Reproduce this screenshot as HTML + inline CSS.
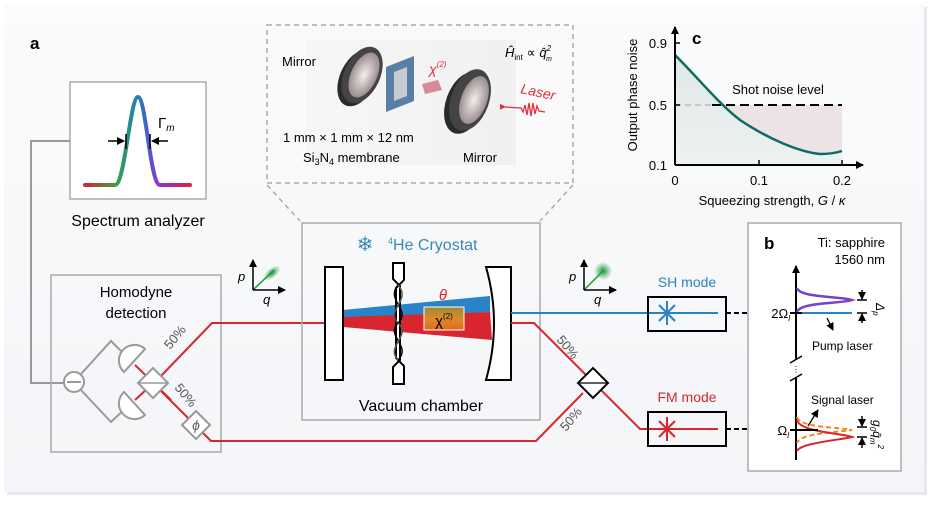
<!DOCTYPE html>
<html><head><meta charset="utf-8"><style>
html,body{margin:0;padding:0;background:#fff;}
svg{display:block;font-family:"Liberation Sans",Arial,sans-serif;}
</style></head><body>
<svg width="937" height="505" viewBox="0 0 937 505" xmlns="http://www.w3.org/2000/svg">
<defs>
<linearGradient id="bg" x1="0" y1="0" x2="0" y2="1"><stop offset="0" stop-color="#fafbfc"/><stop offset="1" stop-color="#f3f5f8"/></linearGradient>
<linearGradient id="spec" x1="0" y1="0" x2="1" y2="0"><stop offset="0" stop-color="#d8262e"/><stop offset="0.3" stop-color="#3aa040"/><stop offset="0.5" stop-color="#1f7fc0"/><stop offset="0.72" stop-color="#9030d0"/><stop offset="1" stop-color="#d8263e"/></linearGradient>
<linearGradient id="chi" x1="0" y1="0" x2="0" y2="1"><stop offset="0" stop-color="#9a8a3a"/><stop offset="0.5" stop-color="#e08a2a"/><stop offset="1" stop-color="#e06a20"/></linearGradient>
<linearGradient id="fillc" x1="0" y1="0" x2="0" y2="1"><stop offset="0" stop-color="#dfe8e6"/><stop offset="1" stop-color="#eef2f1"/></linearGradient>
<linearGradient id="photo" x1="0" y1="0" x2="1" y2="0"><stop offset="0" stop-color="#f7f7f7"/><stop offset="1" stop-color="#f0f0f0"/></linearGradient>
<radialGradient id="glow"><stop offset="0" stop-color="#1a9a3a"/><stop offset="1" stop-color="#1a9a3a" stop-opacity="0"/></radialGradient>
<radialGradient id="lens" cx="0.5" cy="0.5" r="0.6"><stop offset="0" stop-color="#f4eeee"/><stop offset="1" stop-color="#8a7a7c"/></radialGradient>
<marker id="ar" markerWidth="8" markerHeight="8" refX="7" refY="4" orient="auto" markerUnits="userSpaceOnUse"><path d="M0,0 L8,4 L0,8 z" fill="#000"/></marker>
<marker id="arr" markerWidth="6" markerHeight="6" refX="1" refY="3" orient="auto" markerUnits="userSpaceOnUse"><path d="M6,0 L0,3 L6,6 z" fill="#e03040"/></marker>
</defs>
<rect x="0" y="0" width="937" height="505" fill="#fff"/>
<rect x="7" y="7" width="920" height="488" fill="#e6e8eb"/>
<rect x="4" y="4" width="920" height="488" fill="url(#bg)"/>
<text x="30" y="49" font-size="17" font-weight="bold">a</text>

<!-- Spectrum analyzer -->
<rect x="70" y="82" width="136" height="117" fill="#fff" stroke="#aaa" stroke-width="1.5"/>
<path d="M85,185 L115,185 C125,185 130,97 138,97 C146,97 150,185 160,185 L190,185" fill="none" stroke="url(#spec)" stroke-width="4" stroke-linecap="round"/>
<line x1="108" y1="141" x2="124" y2="141" stroke="#000" stroke-width="1.5" marker-end="url(#ar)"/>
<line x1="126" y1="134" x2="126" y2="149" stroke="#000" stroke-width="1.5"/>
<line x1="168" y1="141" x2="152" y2="141" stroke="#000" stroke-width="1.5" marker-end="url(#ar)"/>
<line x1="150" y1="134" x2="150" y2="149" stroke="#000" stroke-width="1.5"/>
<text x="158" y="128" font-size="15">Γ<tspan font-size="10" font-style="italic" dy="3">m</tspan></text>
<text x="138" y="226" font-size="16" text-anchor="middle">Spectrum analyzer</text>
<polyline points="70,141 31,141 31,383 64,383" fill="none" stroke="#999" stroke-width="2"/>

<!-- Homodyne -->
<rect x="51" y="275" width="170" height="177" fill="none" stroke="#aaa" stroke-width="1.5"/>
<text x="136" y="297" font-size="15" text-anchor="middle">Homodyne</text>
<text x="136" y="318" font-size="15" text-anchor="middle">detection</text>
<circle cx="74" cy="382" r="10" fill="#fff" stroke="#999" stroke-width="2"/>
<line x1="67" y1="382" x2="81" y2="382" stroke="#999" stroke-width="2"/>
<polyline points="81,374 111,341 126,356" fill="none" stroke="#999" stroke-width="2"/>
<polyline points="81,390 111,422 126,408" fill="none" stroke="#999" stroke-width="2"/>
<polyline points="135,365 171,400" fill="none" stroke="#d8262e" stroke-width="2"/>
<polyline points="135,400 160,377 212,323 326,323" fill="none" stroke="#d8262e" stroke-width="2"/>
<polyline points="160,390 211,441 536,441 583,393" fill="none" stroke="#d8262e" stroke-width="2"/>
<path d="M145,349 L124,372 A15.5,15.5 0 0 1 145,349 Z" fill="#fff" stroke="#999" stroke-width="2"/>
<path d="M124,392 L145,415 A15.5,15.5 0 0 1 124,392 Z" fill="#fff" stroke="#999" stroke-width="2"/>
<polygon points="138,383 153,368 168,383 153,398" fill="#fff" stroke="#999" stroke-width="2"/>
<line x1="138" y1="383" x2="168" y2="383" stroke="#999" stroke-width="1.5"/>
<polygon points="182,425 196,411 210,425 196,439" fill="#fff" stroke="#999" stroke-width="2"/>
<text x="196" y="430" font-size="14" font-style="italic" text-anchor="middle" fill="#666">ϕ</text>
<text x="170" y="350" font-size="13" fill="#555" transform="rotate(-50 170 350)">50%</text>
<text x="174" y="388" font-size="13" fill="#555" transform="rotate(50 174 388)">50%</text>

<!-- dashed inset -->
<rect x="267" y="25" width="306" height="158" fill="#fafafa" stroke="#aaa" stroke-width="1.5" stroke-dasharray="5,4"/>
<line x1="267" y1="185" x2="300" y2="221" stroke="#aaa" stroke-width="1.5" stroke-dasharray="5,4"/>
<line x1="573" y1="185" x2="540" y2="221" stroke="#aaa" stroke-width="1.5" stroke-dasharray="5,4"/>
<rect x="306" y="40" width="210" height="125" fill="url(#photo)"/>
<!-- mirror 1 -->
<ellipse cx="358" cy="78" rx="18" ry="30" fill="#2a2a2a" transform="rotate(25 358 78)"/>
<ellipse cx="362" cy="75" rx="18" ry="30" fill="#444" transform="rotate(25 362 75)"/>
<ellipse cx="364" cy="75" rx="13" ry="24" fill="url(#lens)" transform="rotate(25 364 75)"/>
<!-- membrane -->
<polygon points="386,67 414,56 414,101 386,112" fill="#5a7fa5"/>
<polygon points="394,72 407,67 407,96 394,101" fill="#c8ccd0"/>
<polygon points="422,84 438,80 442,90 425,94" fill="#d88a98"/>
<!-- mirror 2 -->
<ellipse cx="465" cy="103" rx="19" ry="32" fill="#2a2a2a" transform="rotate(20 465 103)"/>
<ellipse cx="470" cy="100" rx="19" ry="32" fill="#444" transform="rotate(20 470 100)"/>
<ellipse cx="474" cy="100" rx="13" ry="25" fill="url(#lens)" transform="rotate(20 474 100)"/>
<path d="M545,112 l-6,-1 l-2,-5 l-2,8 l-2,-11 l-2,13 l-2,-13 l-2,12 l-2,-10 l-2,7 l-2,-4 l-16,-1" fill="none" stroke="#e03040" stroke-width="1.3" marker-end="url(#arr)"/>
<text x="282" y="66" font-size="13">Mirror</text>
<text x="429" y="74" font-size="14" fill="#e03040" font-style="italic">χ<tspan font-size="8" dy="-7">(2)</tspan></text>
<text x="505" y="57" font-size="13" font-style="italic">Ĥ<tspan font-size="8" font-style="normal" dy="3">int</tspan><tspan dy="-3" font-style="normal"> ∝ </tspan>q̂<tspan font-size="8" dy="-6">2</tspan><tspan font-size="7" dx="-5" dy="10">m</tspan></text>
<text x="520" y="93" font-size="14" fill="#e03040" font-style="italic" transform="rotate(12 520 93)">Laser</text>
<text x="283" y="142" font-size="13">1 mm × 1 mm × 12 nm</text>
<text x="303" y="162" font-size="13">Si<tspan font-size="9" dy="3">3</tspan><tspan dy="-3">N</tspan><tspan font-size="9" dy="3">4</tspan><tspan dy="-3"> membrane</tspan></text>
<text x="463" y="162" font-size="13">Mirror</text>

<!-- cryostat -->
<rect x="302" y="223" width="238" height="197" fill="none" stroke="#aaa" stroke-width="1.5"/>
<text x="365" y="251" font-size="20" fill="#3a8ab8" text-anchor="middle">❄</text>
<text x="388" y="250" font-size="16" fill="#3a8ab8"><tspan font-size="9" dy="-6">4</tspan><tspan dy="6">He Cryostat</tspan></text>
<polygon points="343,310 490,296 490,312 343,318" fill="#2a82c8"/>
<polygon points="343,317 490,312 492,340 343,327" fill="#d8262e"/>
<rect x="424" y="307" width="40" height="23" fill="url(#chi)" stroke="#fff" stroke-width="1"/>
<text x="444" y="326" font-size="15" text-anchor="middle">χ<tspan font-size="8" dy="-7">(2)</tspan></text>
<text x="443" y="300" font-size="15" fill="#d8262e" font-style="italic" text-anchor="middle">θ</text>
<rect x="325" y="267" width="18" height="113" fill="#fff" stroke="#000" stroke-width="2"/>
<path d="M393,263 L404,263 L404,280 L396,288 L396,358 L404,366 L404,384 L393,384 L393,367 L400,360 L400,286 L393,279 Z" fill="#fff" stroke="#000" stroke-width="2"/>
<path d="M398,285 C385,300 412,310 398,323 C385,336 412,346 398,360" fill="none" stroke="#000" stroke-width="1.5"/>
<path d="M398,285 C412,300 385,310 398,323 C412,336 385,346 398,360" fill="none" stroke="#555" stroke-width="1.5"/>
<path d="M486,267 L511,267 L511,380 L486,380 Q502,323 486,267 Z" fill="#fff" stroke="#000" stroke-width="2"/>
<text x="421" y="411" font-size="16" text-anchor="middle">Vacuum chamber</text>

<!-- phase space icons -->
<g>
<ellipse cx="272" cy="273" rx="10" ry="5" fill="url(#glow)" transform="rotate(-40 272 273)"/>
<line x1="253" y1="290" x2="274" y2="270" stroke="#1a9a3a" stroke-width="1.5"/>
<line x1="253" y1="290" x2="253" y2="260" stroke="#000" stroke-width="1.5" marker-end="url(#ar)"/>
<line x1="253" y1="290" x2="285" y2="290" stroke="#000" stroke-width="1.5" marker-end="url(#ar)"/>
<text x="238" y="281" font-size="13" font-style="italic">p</text>
<text x="263" y="304" font-size="13" font-style="italic">q</text>
</g>
<g>
<circle cx="603" cy="271" r="9" fill="url(#glow)"/>
<line x1="584" y1="290" x2="603" y2="271" stroke="#1a9a3a" stroke-width="1.5"/>
<line x1="584" y1="290" x2="584" y2="260" stroke="#000" stroke-width="1.5" marker-end="url(#ar)"/>
<line x1="584" y1="290" x2="616" y2="290" stroke="#000" stroke-width="1.5" marker-end="url(#ar)"/>
<text x="569" y="281" font-size="13" font-style="italic">p</text>
<text x="594" y="304" font-size="13" font-style="italic">q</text>
</g>

<!-- right beams -->
<line x1="511" y1="313" x2="718" y2="313" stroke="#2a82c8" stroke-width="2"/>
<polyline points="511,323 534,323 640,429 718,429" fill="none" stroke="#d8262e" stroke-width="2"/>
<polygon points="578,383 593,368 608,383 593,398" fill="#fff" stroke="#000" stroke-width="2"/>
<line x1="578" y1="383" x2="608" y2="383" stroke="#000" stroke-width="1.2"/>
<text x="556" y="340" font-size="13" fill="#555" transform="rotate(50 556 340)">50%</text>
<text x="566" y="432" font-size="13" fill="#555" transform="rotate(-50 566 432)">50%</text>
<text x="687" y="287" font-size="14" fill="#2a82c8" text-anchor="middle">SH mode</text>
<text x="687" y="402" font-size="14" fill="#d8262e" text-anchor="middle">FM mode</text>
<rect x="648" y="297" width="78" height="34" fill="none" stroke="#000" stroke-width="2"/>
<rect x="648" y="412" width="78" height="34" fill="none" stroke="#000" stroke-width="2"/>
<g stroke="#2a82c8" stroke-width="2"><line x1="667" y1="301" x2="667" y2="325"/><line x1="655" y1="313" x2="679" y2="313"/><line x1="659" y1="305" x2="675" y2="321"/><line x1="659" y1="321" x2="675" y2="305"/></g>
<g stroke="#d8262e" stroke-width="2"><line x1="667" y1="417" x2="667" y2="441"/><line x1="655" y1="429" x2="679" y2="429"/><line x1="659" y1="421" x2="675" y2="437"/><line x1="659" y1="437" x2="675" y2="421"/></g>
<line x1="726" y1="313" x2="748" y2="313" stroke="#000" stroke-width="2" stroke-dasharray="5,3"/>
<line x1="726" y1="429" x2="748" y2="429" stroke="#000" stroke-width="2" stroke-dasharray="5,3"/>

<!-- panel b -->
<rect x="748" y="223" width="153" height="248" fill="#fff" stroke="#aaa" stroke-width="1.5"/>
<text x="764" y="249" font-size="17" font-weight="bold">b</text>
<text x="885" y="247" font-size="13" text-anchor="end">Ti: sapphire</text>
<text x="885" y="264" font-size="13" text-anchor="end">1560 nm</text>
<line x1="796" y1="360" x2="796" y2="266" stroke="#000" stroke-width="2" marker-end="url(#ar)"/>
<line x1="796" y1="378" x2="796" y2="460" stroke="#000" stroke-width="2"/>
<line x1="790" y1="363" x2="802" y2="356" stroke="#000" stroke-width="1.5"/>
<line x1="790" y1="381" x2="802" y2="374" stroke="#000" stroke-width="1.5"/>
<text x="796" y="372" font-size="8" text-anchor="middle">⋮</text>
<path d="M797,288 C800,298 840,296 852,300 C840,304 800,302 797,312" fill="none" stroke="#7a40c8" stroke-width="2.5"/>
<line x1="796" y1="313" x2="852" y2="313" stroke="#2a82c8" stroke-width="2"/>
<line x1="790" y1="313" x2="802" y2="313" stroke="#000" stroke-width="2"/>
<line x1="827" y1="318" x2="833" y2="330" stroke="#000" stroke-width="1.3" marker-end="url(#ar)"/>
<text x="812" y="350" font-size="12">Pump laser</text>
<text x="790" y="318" font-size="13" text-anchor="end">2Ω<tspan font-size="8" font-style="italic" dy="3">l</tspan></text>
<line x1="862" y1="290" x2="862" y2="299" stroke="#000" stroke-width="1.5" marker-end="url(#ar)"/>
<line x1="857" y1="300" x2="867" y2="300" stroke="#000" stroke-width="1.5"/>
<line x1="857" y1="313" x2="867" y2="313" stroke="#000" stroke-width="1.5"/>
<line x1="862" y1="323" x2="862" y2="314" stroke="#000" stroke-width="1.5" marker-end="url(#ar)"/>
<text x="876" y="303" font-size="12" font-style="italic" transform="rotate(90 876 303)">Δ<tspan font-size="8" dy="3">p</tspan></text>
<text x="811" y="404" font-size="12">Signal laser</text>
<line x1="808" y1="426" x2="818" y2="410" stroke="#000" stroke-width="1.3" marker-end="url(#ar)"/>
<path d="M797,417 C800,428 840,427 852,430 C840,432 800,433 797,443" fill="none" stroke="#f08a20" stroke-width="2" stroke-dasharray="5,3"/>
<path d="M797,420 C800,432 840,433 852,437 C840,440 800,443 797,451" fill="none" stroke="#d8262e" stroke-width="2"/>
<line x1="790" y1="430" x2="818" y2="430" stroke="#000" stroke-width="2"/>
<text x="789" y="435" font-size="13" text-anchor="end">Ω<tspan font-size="8" font-style="italic" dy="3">l</tspan></text>
<line x1="862" y1="416" x2="862" y2="426" stroke="#000" stroke-width="1.5" marker-end="url(#ar)"/>
<line x1="857" y1="427" x2="867" y2="427" stroke="#000" stroke-width="1.5"/>
<line x1="857" y1="437" x2="867" y2="437" stroke="#000" stroke-width="1.5"/>
<line x1="862" y1="448" x2="862" y2="438" stroke="#000" stroke-width="1.5" marker-end="url(#ar)"/>
<text x="873" y="420" font-size="12" font-style="italic" transform="rotate(90 873 420)">g<tspan font-size="8" dy="3">0</tspan><tspan dy="-3">q̄</tspan><tspan font-size="8" dy="3">m</tspan><tspan font-size="8" dy="-8">2</tspan></text>

<!-- panel c -->
<rect x="712" y="105" width="130" height="60" fill="#ece4e4"/>
<path d="M675,55 C700,80 720,105 740,120 C770,140 800,152 820,154 C830,154 836,153 842,151 L842,165 L675,165 Z" fill="url(#fillc)"/>
<line x1="675" y1="105" x2="712" y2="105" stroke="#bbb" stroke-width="1.5" stroke-dasharray="6,4"/>
<line x1="712" y1="105" x2="842" y2="105" stroke="#000" stroke-width="2" stroke-dasharray="9,5"/>
<path d="M675,55 C700,80 720,105 740,120 C770,140 800,152 820,154 C830,154 836,153 842,151" fill="none" stroke="#0e6a62" stroke-width="2.5"/>
<line x1="675" y1="165" x2="675" y2="27" stroke="#000" stroke-width="2" marker-end="url(#ar)"/>
<line x1="675" y1="165" x2="863" y2="165" stroke="#000" stroke-width="2" marker-end="url(#ar)"/>
<g stroke="#000" stroke-width="1.5"><line x1="675" y1="43" x2="680" y2="43"/><line x1="675" y1="105" x2="680" y2="105"/><line x1="759" y1="165" x2="759" y2="160"/><line x1="842" y1="165" x2="842" y2="160"/></g>
<g font-size="13" text-anchor="end"><text x="667" y="48">0.9</text><text x="667" y="110">0.5</text><text x="667" y="170">0.1</text></g>
<g font-size="13" text-anchor="middle"><text x="675" y="185">0</text><text x="759" y="185">0.1</text><text x="842" y="185">0.2</text></g>
<text x="772" y="205" font-size="13" text-anchor="middle">Squeezing strength, <tspan font-style="italic">G</tspan> / <tspan font-style="italic">κ</tspan></text>
<text x="637" y="95" font-size="13" text-anchor="middle" transform="rotate(-90 637 95)">Output phase noise</text>
<text x="778" y="94" font-size="13" text-anchor="middle">Shot noise level</text>
<text x="692" y="44" font-size="17" font-weight="bold">c</text>
</svg>
</body></html>
